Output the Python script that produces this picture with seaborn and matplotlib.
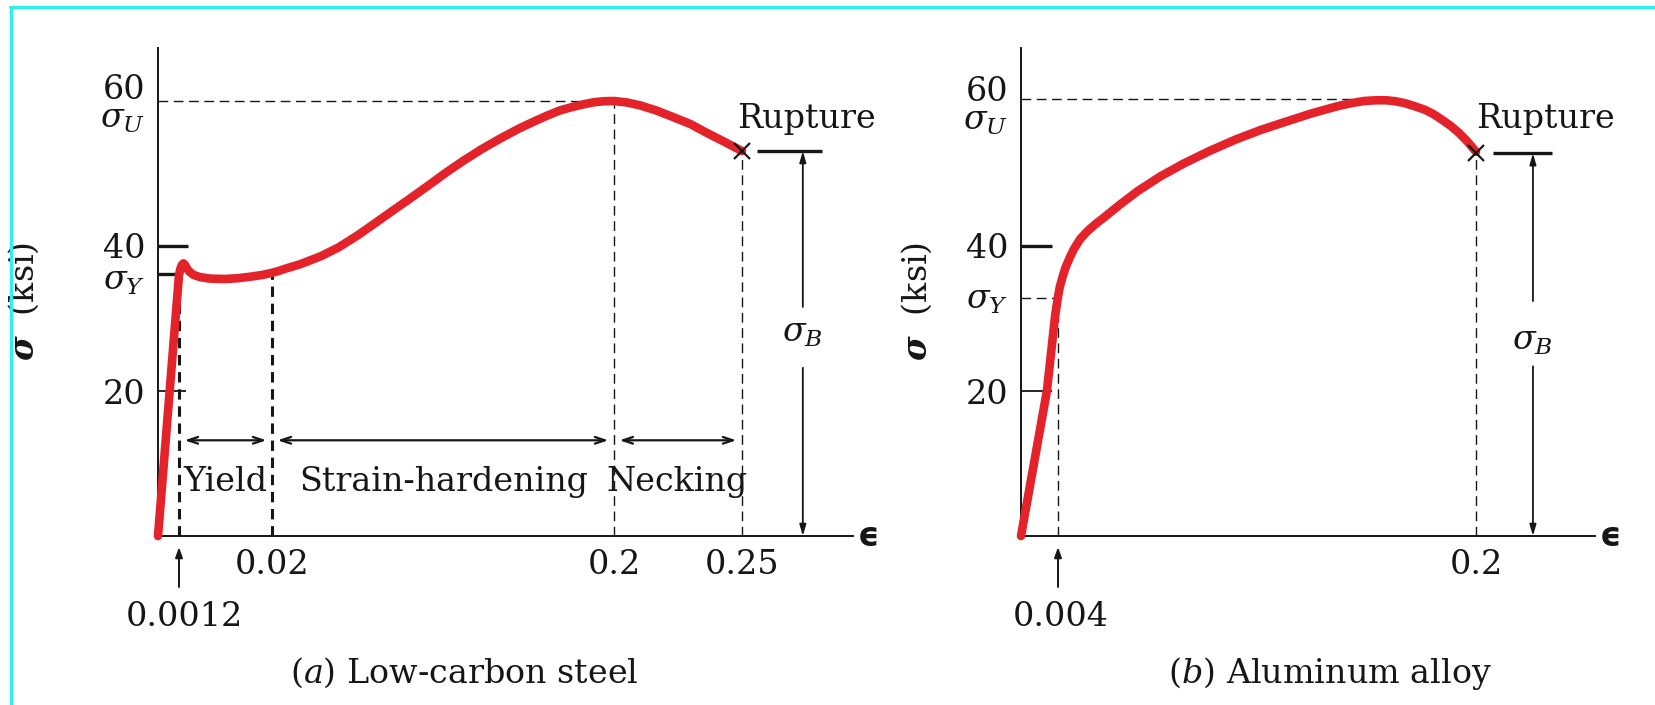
import numpy as np
import matplotlib
matplotlib.use("Agg")
import matplotlib.pyplot as plt
from matplotlib.lines import Line2D
import seaborn as sns

# ---------------- data ----------------
steel_strain = [0, 0.0006, 0.0012, 0.0015, 0.0018, 0.0021, 0.0024, 0.0028, 0.0034,
                0.0042, 0.0055, 0.0075, 0.0105, 0.013, 0.016, 0.018, 0.020, 0.024,
                0.0274, 0.035, 0.0458, 0.055, 0.0647, 0.074, 0.0837, 0.093, 0.1026,
                0.112, 0.121, 0.130, 0.140, 0.150, 0.159, 0.165, 0.1716, 0.1784,
                0.185, 0.190, 0.195, 0.200, 0.205, 0.2102, 0.2165, 0.2230, 0.230,
                0.2363, 0.243, 0.250]
steel_stress = [0, 18.0, 36.0, 36.9, 37.4, 37.6, 37.4, 36.9, 36.4,
                36.0, 35.7, 35.5, 35.45, 35.55, 35.8, 36.0, 36.3, 36.6,
                36.9, 37.5, 38.6, 39.8, 41.4, 43.1, 44.9, 46.6, 48.4,
                50.2, 51.8, 53.3, 54.8, 56.2, 57.3, 58.0, 58.7, 59.2,
                59.6, 59.85, 59.97, 60.0, 59.8, 59.4, 58.7, 57.8, 56.8,
                55.6, 54.4, 53.1]

al_strain = [0, 0.0014, 0.0028, 0.0034, 0.0037, 0.0040, 0.0048, 0.0060, 0.0075,
             0.0095, 0.0115, 0.0145, 0.018, 0.0215, 0.025, 0.033, 0.0415, 0.052,
             0.0631, 0.075, 0.0874, 0.099, 0.1114, 0.123, 0.1353, 0.1415, 0.1475,
             0.153, 0.158, 0.1625, 0.1667, 0.171, 0.176, 0.180, 0.1836, 0.188,
             0.192, 0.196, 0.200]
al_stress = [0, 10, 20, 27, 30.5, 33.0, 34.3, 35.6, 37.0,
             38.4, 39.6, 41.0, 42.1, 43.0, 43.8, 45.7, 47.6, 49.6,
             51.4, 53.1, 54.7, 56.0, 57.2, 58.3, 59.3, 59.7, 60.0,
             60.1, 60.1, 59.95, 59.7, 59.3, 58.8, 58.2, 57.5, 56.6,
             55.6, 54.4, 53.0]

steel_ticks = [0.02, 0.2, 0.25]
steel_ticklabels = ["0.02", "0.2", "0.25"]
al_ticks = [0.2]
al_ticklabels = ["0.2"]
y_ticks = [20, 40]
y_ticklabels = ["20", "40"]

steel = dict(eps_y=0.0012, sig_y=36.1, eps_sh=0.02, sig_sh=36.3, eps_u=0.2, sig_u=60.0,
             eps_r=0.25, sig_r=53.1)
al = dict(eps_y=0.004, sig_y=32.8, eps_pk=0.1475, sig_u=60.3, eps_r=0.2, sig_r=52.8)

regions = ["Yield", "Strain-hardening", "Necking"]
region_centers = [0.0105, 0.1105, 0.2246]

# ---------------- style ----------------
sns.set_theme(style="white")
plt.rcParams["font.family"] = ["DejaVu Serif", "DejaVu Sans"]
plt.rcParams["mathtext.fontset"] = "dejavuserif"
INK = "#161616"
plt.rcParams["text.color"] = INK
plt.rcParams["xtick.color"] = INK
plt.rcParams["ytick.color"] = INK
plt.rcParams["axes.labelcolor"] = INK
RED = "#e4222a"
FS = 24

W, H = 1656, 705
fig = plt.figure(figsize=(W / 100, H / 100), dpi=100)


def px_axes(l, t, r, b):
    return [l / W, 1 - b / H, (r - l) / W, (b - t) / H]


ax_a = fig.add_axes(px_axes(158, 48, 853, 536))
ax_b = fig.add_axes(px_axes(1021, 48, 1595, 536))


def piecewise_scale(ax, s_knots, p_knots):
    s = np.asarray(s_knots, float)
    p = np.asarray(p_knots, float)

    def fwd(x):
        return np.interp(np.asarray(x, float), s, p)

    def inv(y):
        return np.interp(np.asarray(y, float), p, s)

    ax.set_xscale("function", functions=(fwd, inv))


# schematic (non-uniform) strain axes as in the textbook figure
piecewise_scale(ax_a, [-1, 0, 0.0012, 0.02, 0.2, 0.25, 1],
                [-17500, 0, 21, 114, 456, 584, 2504])
piecewise_scale(ax_b, [-1, 0, 0.004, 0.2, 1], [-9250, 0, 37, 455, 2161])

YTOP = 488 / 7.25
for ax, xend in ((ax_a, 0.2934), (ax_b, 0.2558)):
    ax.set_xlim(0, xend)
    ax.set_ylim(0, YTOP)
    for side in ("top", "right"):
        ax.spines[side].set_visible(False)
    for side in ("left", "bottom"):
        ax.spines[side].set_color(INK)
        ax.spines[side].set_linewidth(1.4)
    ax.set_facecolor("white")
    ax.set_yticks(y_ticks)
    ax.set_yticklabels(y_ticklabels)
    ax.tick_params(axis="both", length=0, labelsize=FS, colors=INK)
    ax.tick_params(axis="y", pad=9)
    ax.tick_params(axis="x", pad=9)
    ax.set_ylabel(r"$\boldsymbol{\sigma}$  (ksi)", fontsize=FS, color=INK)
    ax.minorticks_off()

ax_a.set_xticks(steel_ticks)
ax_a.set_xticklabels(steel_ticklabels)
ax_b.set_xticks(al_ticks)
ax_b.set_xticklabels(al_ticklabels)
ax_a.yaxis.set_label_coords(-0.168, 0.48)
ax_b.yaxis.set_label_coords(-0.152, 0.48)

# curves
sns.lineplot(x=steel_strain, y=steel_stress, ax=ax_a, color=RED, linewidth=6.2,
             sort=False, estimator=None)
sns.lineplot(x=al_strain, y=al_stress, ax=ax_b, color=RED, linewidth=6.2,
             sort=False, estimator=None)
for ax in (ax_a, ax_b):
    for ln in ax.lines:
        ln.set_clip_on(False)
        ln.set_solid_joinstyle("round")
        ln.set_zorder(3)

thin = dict(color=INK, lw=1.0, dashes=(7, 4), zorder=2)
heavy = dict(color=INK, lw=2.2, dashes=(3.4, 2.2), zorder=2)
solid = dict(color=INK, lw=2.4, zorder=2, solid_capstyle="butt")
solid_thin = dict(color=INK, lw=1.3, zorder=2, solid_capstyle="butt")


def ylab(ax, y, text, dy):
    ax.annotate(text, xy=(0, y), xycoords=("axes fraction", "data"), xytext=(-13, dy),
                textcoords="offset pixels", ha="right", va="center", fontsize=FS,
                annotation_clip=False)


def below_arrow(ax, x, text, dx):
    ax.annotate("", xy=(x, 0), xytext=(0, -51), textcoords="offset pixels",
                arrowprops=dict(arrowstyle="-|>,head_length=0.5,head_width=0.18",
                                color=INK, lw=1.4, shrinkA=0, shrinkB=8),
                annotation_clip=False)
    ax.annotate(text, xy=(x, 0), xytext=(dx, -81), textcoords="offset pixels",
                ha="center", va="center", fontsize=FS, annotation_clip=False)


def sigma_b(ax, x, top, gap_lo, gap_hi, ytext):
    ap = dict(arrowstyle="-|>,head_length=0.55,head_width=0.16", color=INK, lw=1.3,
              shrinkA=0, shrinkB=0)
    ax.annotate("", xy=(x, top), xytext=(x, gap_hi), arrowprops=ap, annotation_clip=False)
    ax.annotate("", xy=(x, 0), xytext=(x, gap_lo), arrowprops=ap, annotation_clip=False)
    ax.text(x, ytext, r"$\sigma_B$", ha="center", va="center", fontsize=FS)


def eps_label(ax):
    ax.annotate("\u03f5", xy=(1, 0), xycoords="axes fraction", xytext=(16, 0),
                textcoords="offset pixels", ha="center", va="center", fontsize=FS,
                family="DejaVu Sans", fontweight="bold", annotation_clip=False)


# ---------------- panel (a) ----------------
s = steel
ax_a.plot([s["eps_y"], s["eps_y"]], [0, s["sig_y"]], **heavy)
ax_a.plot([s["eps_sh"], s["eps_sh"]], [0, s["sig_sh"]], **heavy)
ax_a.plot([s["eps_u"], s["eps_u"]], [0, s["sig_u"]], **thin)
ax_a.plot([s["eps_r"], s["eps_r"]], [0, s["sig_r"]], **thin)
ax_a.plot([0, s["eps_u"]], [s["sig_u"], s["sig_u"]], **thin)
ax_a.plot([0, 0.0030], [40, 40], **solid)
ax_a.plot([0, s["eps_y"]], [s["sig_y"], s["sig_y"]], **solid)
ax_a.plot([0, 0.0026], [20, 20], **solid_thin)

ylab(ax_a, s["sig_u"], "60", 11)
ylab(ax_a, s["sig_u"], r"$\sigma_U$", -18)
ylab(ax_a, s["sig_y"], r"$\sigma_Y$", -7)

# region arrows
bounds = [s["eps_y"], s["eps_sh"], s["eps_u"], s["eps_r"]]
for i in range(3):
    ax_a.annotate("", xy=(bounds[i], 13.2), xytext=(bounds[i + 1], 13.2),
                  arrowprops=dict(arrowstyle="<->,head_length=0.6,head_width=0.2",
                                  color=INK, lw=1.6, shrinkA=4, shrinkB=4))
    ax_a.text(region_centers[i], 7.4, regions[i], ha="center", va="center", fontsize=FS)

# rupture
ax_a.plot([s["eps_r"]], [s["sig_r"]], marker="x", ms=12, mew=1.6, color=INK,
          zorder=4, clip_on=False)
ax_a.text(0.248, 56.3, "Rupture", ha="left", va="baseline", fontsize=FS)
ax_a.plot([0.2559, 0.2813], [s["sig_r"], s["sig_r"]], **solid)
sigma_b(ax_a, 0.2738, s["sig_r"], 23.2, 31.6, 28.0)
below_arrow(ax_a, s["eps_y"], "0.0012", 5)
eps_label(ax_a)

# ---------------- panel (b) ----------------
a = al
ax_b.plot([a["eps_y"], a["eps_y"]], [0, a["sig_y"]], **thin)
ax_b.plot([0, a["eps_y"]], [a["sig_y"], a["sig_y"]], **thin)
ax_b.plot([0, a["eps_pk"]], [a["sig_u"], a["sig_u"]], **thin)
ax_b.plot([a["eps_r"], a["eps_r"]], [0, a["sig_r"]], **thin)
ax_b.plot([0, 0.0033], [40, 40], **solid)
ax_b.plot([0, 0.0033], [20, 20], **solid_thin)

ylab(ax_b, a["sig_u"], "60", 7)
ylab(ax_b, a["sig_u"], r"$\sigma_U$", -22)
ylab(ax_b, a["sig_y"], r"$\sigma_Y$", -2)

ax_b.plot([a["eps_r"]], [a["sig_r"]], marker="x", ms=12, mew=1.6, color=INK,
          zorder=4, clip_on=False)
ax_b.text(0.2, 56.3, "Rupture", ha="left", va="baseline", fontsize=FS)
ax_b.plot([0.208, 0.2356], [a["sig_r"], a["sig_r"]], **solid)
sigma_b(ax_b, 0.2267, a["sig_r"], 23.4, 32.4, 26.9)
below_arrow(ax_b, a["eps_y"], "0.004", 3)
eps_label(ax_b)

# captions
fig.text(464 / W, 1 - 673 / H, r"$(\mathit{a})$ Low-carbon steel", ha="center",
         va="center", fontsize=FS)
fig.text(1330 / W, 1 - 673 / H, r"$(\mathit{b})$ Aluminum alloy", ha="center",
         va="center", fontsize=FS)

# cyan frame (top and left edges)
fig.add_artist(Line2D([10 / W, 1], [1 - 7 / H, 1 - 7 / H], color="#2ef0f0", lw=2.4,
                      transform=fig.transFigure))
fig.add_artist(Line2D([11 / W, 11 / W], [0, 1 - 7 / H], color="#2ef0f0", lw=2.4,
                      transform=fig.transFigure))

fig.savefig("out.png", dpi=100, facecolor="white")
